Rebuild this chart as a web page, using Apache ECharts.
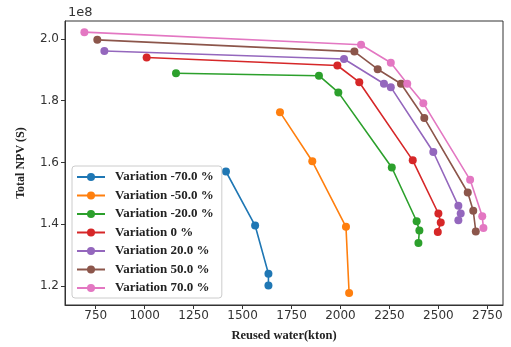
<!DOCTYPE html>
<html>
<head>
<meta charset="utf-8">
<script src="https://cdn.jsdelivr.net/npm/echarts@6/dist/echarts.min.js"></script>
<style>
  html, body { margin: 0; padding: 0; background: #fff; }
  #chart { width: 511px; height: 347px; }
</style>
</head>
<body>
<div id="chart"></div>
<script>
// Reused water (kton) vs total NPV (in units of 1e8) for each price variation
const seriesNames = [
  'Variation -70.0 %', 'Variation -50.0 %', 'Variation -20.0 %',
  'Variation 0 %', 'Variation 20.0 %', 'Variation 50.0 %', 'Variation 70.0 %'
];
const colors = ['#1f77b4', '#ff7f0e', '#2ca02c', '#d62728', '#9467bd', '#8c564b', '#e377c2'];

const water_m70 = [1415, 1564, 1632, 1632];
const npv_m70   = [1.571, 1.396, 1.240, 1.202];

const water_m50 = [1691, 1856, 2028, 2044];
const npv_m50   = [1.763, 1.604, 1.392, 1.178];

const water_m20 = [1160, 1890, 1989, 2262, 2389, 2403, 2398];
const npv_m20   = [1.889, 1.881, 1.827, 1.584, 1.410, 1.380, 1.340];

const water_0 = [1010, 1984, 2096, 2369, 2500, 2512, 2497];
const npv_0   = [1.940, 1.914, 1.860, 1.607, 1.435, 1.406, 1.375];

const water_p20 = [794, 2018, 2222, 2257, 2474, 2602, 2614, 2602];
const npv_p20   = [1.961, 1.935, 1.855, 1.844, 1.634, 1.460, 1.435, 1.413];

const water_p50 = [758, 2071, 2190, 2309, 2428, 2650, 2678, 2691];
const npv_p50   = [1.997, 1.959, 1.902, 1.855, 1.744, 1.503, 1.444, 1.377];

const water_p70 = [692, 2105, 2257, 2341, 2423, 2662, 2724, 2730];
const npv_p70   = [2.022, 1.981, 1.923, 1.855, 1.792, 1.544, 1.426, 1.388];

const xTicks = [750, 1000, 1250, 1500, 1750, 2000, 2250, 2500, 2750];
const yTicks = [1.2, 1.4, 1.6, 1.8, 2.0];
const yScale = 1e8;

const waterSets = [water_m70, water_m50, water_m20, water_0, water_p20, water_p50, water_p70];
const npvSets = [npv_m70, npv_m50, npv_m20, npv_0, npv_p20, npv_p50, npv_p70];

const series = seriesNames.map((name, i) => ({
  name: name,
  type: 'line',
  data: waterSets[i].map((w, j) => [w, npvSets[i][j] * yScale]),
  symbol: 'circle',
  symbolSize: 8,
  showSymbol: true,
  lineStyle: { width: 1.6, color: colors[i] },
  itemStyle: { color: colors[i] },
  emphasis: { disabled: true },
  animation: false
}));

const chart = echarts.init(document.getElementById('chart'), null, { renderer: 'canvas' });
chart.setOption({
  animation: false,
  backgroundColor: '#fff',
  grid: {
    left: 65, right: 8, top: 21, bottom: 42,
    show: true, borderColor: '#333', borderWidth: 1, backgroundColor: 'transparent'
  },
  title: {
    text: '1e8',
    left: 63, top: 1,
    textStyle: { fontFamily: 'DejaVu Sans', fontSize: 13, fontWeight: 'normal', color: '#333' }
  },
  legend: {
    orient: 'vertical',
    left: 72, top: 166,
    itemWidth: 28, itemHeight: 10,
    itemGap: 4.5,
    padding: [4, 8, 3, 4],
    backgroundColor: 'rgba(255,255,255,0.85)',
    borderColor: '#ccc', borderWidth: 1, borderRadius: 3,
    data: seriesNames,
    textStyle: {
      fontFamily: 'Liberation Serif', fontWeight: 'bold', fontSize: 13, lineHeight: 14,
      color: '#222', padding: [0, 0, 0, 5]
    }
  },
  xAxis: {
    type: 'value',
    min: 593, max: 2830,
    name: 'Reused water(kton)',
    nameLocation: 'middle',
    nameGap: 24,
    nameTextStyle: { fontFamily: 'Liberation Serif', fontWeight: 'bold', fontSize: 12.5, color: '#222' },
    axisLine: { show: true, onZero: false, lineStyle: { color: '#333' } },
    axisTick: { show: true, length: 4, customValues: xTicks, lineStyle: { color: '#333' } },
    axisLabel: {
      customValues: xTicks,
      formatter: v => String(Math.round(v)),
      fontFamily: 'DejaVu Sans', fontSize: 12, color: '#333', margin: 5
    },
    splitLine: { show: false }
  },
  yAxis: {
    type: 'value',
    min: 1.139 * yScale, max: 2.058 * yScale,
    name: 'Total NPV (S)',
    nameLocation: 'middle',
    nameGap: 38,
    nameRotate: 90,
    nameTextStyle: { fontFamily: 'Liberation Serif', fontWeight: 'bold', fontSize: 12, color: '#222' },
    axisLine: { show: true, onZero: false, lineStyle: { color: '#333' } },
    axisTick: { show: true, length: 4, customValues: yTicks.map(v => v * yScale), lineStyle: { color: '#333' } },
    axisLabel: {
      customValues: yTicks.map(v => v * yScale),
      formatter: v => (v / yScale).toFixed(1),
      fontFamily: 'DejaVu Sans', fontSize: 12, color: '#333', margin: 6
    },
    splitLine: { show: false }
  },
  series: series
});
</script>
</body>
</html>
